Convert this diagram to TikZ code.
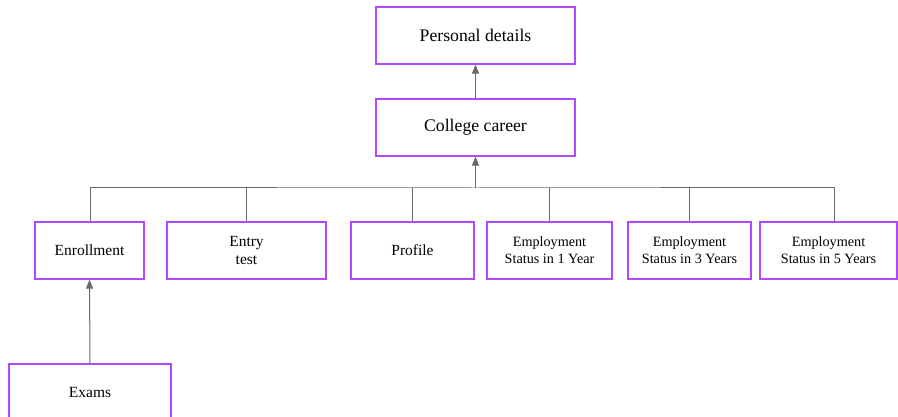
\documentclass[tikz,border=0pt]{standalone}
\usepackage{fontspec}
\setmainfont{Liberation Serif}
\usetikzlibrary{arrows.meta}
\definecolor{boxpurple}{RGB}{176,72,255}
\definecolor{linegray}{RGB}{105,105,105}
\tikzset{
  box/.style={draw=boxpurple, line width=1.2pt, fill=white, inner sep=0pt, align=center, text=black},
  conn/.style={draw=linegray, line width=1pt},
  arr/.style={conn, -{Triangle[length=9pt,width=7pt]}}
}
\begin{document}
\begin{tikzpicture}[x=1pt,y=-1pt]
\useasboundingbox (0,0) rectangle (898,417);
\fill[white] (0,0) rectangle (898,417);
% nodes
\node[box, minimum width=199pt, minimum height=57pt, font=\fontsize{17.7}{20}\selectfont] (pd) at (475.5,35.5) {Personal details};
\node[box, minimum width=199pt, minimum height=57pt, font=\fontsize{17.7}{20}\selectfont] (cc) at (475.5,127.5) {College career};
\node[box, minimum width=109pt, minimum height=57pt, font=\fontsize{15.5}{18}\selectfont] (en) at (89.5,250.5) {Enrollment};
\node[box, minimum width=159pt, minimum height=57pt, font=\fontsize{15.5}{18}\selectfont] (et) at (246.5,250.5) {Entry\\test};
\node[box, minimum width=123pt, minimum height=57pt, font=\fontsize{15.5}{18}\selectfont] (pr) at (412.5,250.5) {Profile};
\node[box, minimum width=125pt, minimum height=57pt, font=\fontsize{14.2}{17}\selectfont] (e1) at (549.5,250.5) {Employment\\Status in 1 Year};
\node[box, minimum width=123pt, minimum height=57pt, font=\fontsize{14.2}{17}\selectfont] (e3) at (689.5,250.5) {Employment\\Status in 3 Years};
\node[box, minimum width=137pt, minimum height=57pt, font=\fontsize{14.2}{17}\selectfont] (e5) at (828.5,250.5) {Employment\\Status in 5 Years};
\node[box, minimum width=162pt, minimum height=57pt, font=\fontsize{15.5}{18}\selectfont] (ex) at (90,392.5) {Exams};
% connectors
\coordinate (bus) at (475.5,188);
\draw[arr] (cc.south |- bus) -- (cc.south);
\draw[arr] (cc.north) -- (pd.south);
\draw[conn] (en.north -| 90,0) |- (bus) -| (834,222);
\draw[conn] (246.5,188) -- (et.north);
\draw[conn] (412.5,188) -- (pr.north);
\draw[conn] (549.5,188) -- (e1.north);
\draw[conn] (689.5,188) -- (e3.north);
\draw[arr] (ex.north) -- (en.south);
\end{tikzpicture}
\end{document}
